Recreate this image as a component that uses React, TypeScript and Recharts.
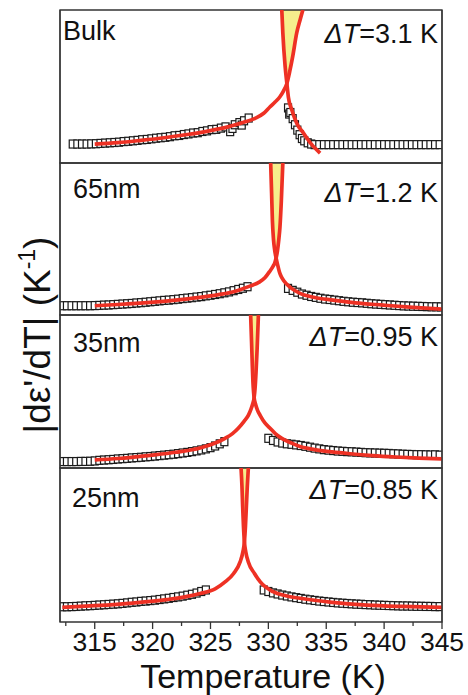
import React from "react";
import { Area, ComposedChart, Line, ReferenceArea, ReferenceLine, Scatter, XAxis, YAxis } from "recharts";

type Pair = [number, number];

// temperature axis
const tempDomain: [number, number] = [312, 345];
const tempTicks = [312.5, 315, 317.5, 320, 322.5, 325, 327.5, 330, 332.5, 335, 337.5, 340, 342.5, 345];

const panelNames = ["Bulk", "65nm", "35nm", "25nm"];
const deltaT = ["3.1", "1.2", "0.95", "0.85"];

// ---- Bulk ----
const bulkDataLow: Pair[] = [
  [313.1, 12.4], [313.5, 12.4], [313.9, 12.4], [314.3, 12.4], [314.7, 12.5], [315.1, 12.6],
  [315.5, 12.8], [315.9, 13.0], [316.3, 13.2], [316.7, 13.4], [317.1, 13.6], [317.5, 14.0],
  [317.9, 14.2], [318.3, 14.5], [318.7, 14.8], [319.1, 15.2], [319.5, 15.4], [319.9, 15.8],
  [320.3, 16.2], [320.7, 16.5], [321.1, 16.8], [321.5, 17.2], [321.9, 17.8], [322.3, 18.0],
  [322.7, 18.6], [323.1, 19.0], [323.5, 19.6], [323.9, 19.8], [324.3, 20.6], [324.7, 21.0],
  [325.1, 21.8], [325.5, 22.0], [325.9, 22.8], [326.3, 23.6], [326.7, 20.5], [326.9, 22.6],
  [327.1, 25.0], [327.5, 26.4], [327.7, 24.8], [327.9, 27.6], [328.3, 29.4],
];
const bulkDataHigh: Pair[] = [
  [331.7, 36], [331.8, 32], [331.9, 33], [332.1, 29], [332.3, 25], [332.5, 21.5], [332.7, 18.5],
  [332.9, 16], [333.1, 14.5], [333.4, 13.2], [333.7, 12.4], [334.0, 12.0], [334.4, 12.0],
  [334.8, 12.0], [335.2, 12.0], [335.6, 12.0], [336.0, 12.0], [336.4, 12.0], [336.8, 12.0],
  [337.2, 12.0], [337.6, 12.0], [338.0, 12.0], [338.4, 12.0], [338.8, 12.0], [339.2, 12.0],
  [339.6, 12.0], [340.0, 12.0], [340.4, 12.0], [340.8, 12.0], [341.2, 12.0], [341.6, 12.0],
  [342.0, 12.0], [342.4, 12.0], [342.8, 12.0], [343.2, 12.0], [343.6, 12.0], [344.0, 12.0],
  [344.4, 12.0], [344.8, 12.0],
];
const bulkFitLow: Pair[] = [
  [315.0, 12.4], [317, 13.3], [319, 14.8], [321, 16.5], [323, 18.6], [325, 21.2], [326.5, 23.6],
  [327.8, 26.5], [328.85, 29.2], [329.6, 32.5], [330.15, 36.8], [330.6, 40], [331.0, 43.3],
  [331.3, 47], [331.6, 52], [331.85, 60], [332.1, 69.5], [332.45, 85], [332.74, 93.5],
  [332.98, 100],
];
const bulkFitHigh: Pair[] = [
  [331.16, 100], [331.25, 85], [331.45, 63], [331.6, 52], [331.73, 43],
  [332.03, 34.6], [332.45, 26], [333.03, 19.6], [333.7, 12.5], [334.47, 6.5],
];
const bulkBand: Pair[] = [
  [331.16, 100], [331.25, 85], [331.45, 63], [331.6, 52], [331.85, 60], [332.1, 69.5],
  [332.45, 85], [332.74, 93.5], [332.98, 100],
];

// ---- 65nm ----
const nm65DataLow: Pair[] = [
  [312.2, 6.1], [312.6, 6.1], [313.0, 6.1], [313.4, 6.1], [313.8, 6.1], [314.2, 6.1], [314.6, 6.1],
  [315.0, 6.2], [315.4, 6.3], [315.8, 6.5], [316.2, 6.6], [316.6, 6.8], [317.0, 7.0], [317.4, 7.2],
  [317.8, 7.4], [318.2, 7.6], [318.6, 7.9], [319.0, 8.1], [319.4, 8.4], [319.8, 8.7], [320.2, 9.0],
  [320.6, 9.3], [321.0, 9.6], [321.4, 9.8], [321.8, 10.1], [322.2, 10.4], [322.6, 10.8],
  [323.0, 11.1], [323.4, 11.4], [323.8, 11.8], [324.2, 12.1], [324.6, 12.6], [325.0, 13.0],
  [325.4, 13.5], [325.8, 14.0], [326.2, 14.6], [326.6, 15.2], [327.0, 16.0], [327.4, 16.8],
  [327.8, 17.6], [328.2, 18.6],
];
const nm65DataHigh: Pair[] = [
  [331.7, 17.5], [332.1, 16.2], [332.5, 15.0], [332.9, 13.8], [333.3, 13.0], [333.7, 12.2],
  [334.1, 11.6], [334.5, 11.0], [334.9, 10.5], [335.3, 10.2], [335.7, 9.8], [336.1, 9.4],
  [336.5, 9.0], [336.9, 8.7], [337.3, 8.4], [337.7, 8.2], [338.1, 8.0], [338.5, 7.7], [338.9, 7.4],
  [339.3, 7.2], [339.7, 7.0], [340.1, 6.8], [340.5, 6.6], [340.9, 6.4], [341.3, 6.2], [341.7, 6.0],
  [342.1, 5.9], [342.5, 5.8], [342.9, 5.7], [343.3, 5.6], [343.7, 5.5], [344.1, 5.4], [344.5, 5.4],
  [344.9, 5.3],
];
const nm65FitLow: Pair[] = [
  [315, 6.1], [317, 6.9], [319.8, 8.3], [322, 9.8], [324.1, 11.6], [325.7, 13.4], [327, 15.3],
  [328.4, 19], [329.2, 21.6], [329.7, 24.5], [330.1, 28.5], [330.4, 32], [330.55, 34.2],
  [330.67, 37.5], [330.78, 42], [330.9, 49.5], [331.0, 57.7], [331.12, 75], [331.25, 100],
];
const nm65FitHigh: Pair[] = [
  [330.2, 100], [330.28, 80], [330.35, 62], [330.44, 50], [330.55, 42.5],
  [330.67, 37.5], [330.8, 33], [330.95, 28.5], [331.1, 25.5], [331.3, 22.9], [331.6, 20.2],
  [332, 17.5], [332.74, 14.2], [334, 11.5], [335.6, 9.8], [337.5, 8], [339.9, 6.5], [342.5, 5],
  [345, 3.9],
];
const nm65Band: Pair[] = [
  [330.2, 100], [330.28, 80], [330.35, 62], [330.44, 50], [330.55, 42.5], [330.67, 37.5],
  [330.78, 42], [330.9, 49.5], [331.0, 57.7], [331.12, 75], [331.25, 100],
];

// ---- 35nm ----
const nm35DataLow: Pair[] = [
  [312.2, 4.2], [312.6, 4.2], [313.0, 4.2], [313.4, 4.2], [313.8, 4.3], [314.2, 4.3], [314.6, 4.4],
  [315.0, 4.6], [315.4, 5.0], [315.8, 5.2], [316.2, 5.4], [316.6, 5.6], [317.0, 5.9], [317.4, 6.1],
  [317.8, 6.3], [318.2, 6.6], [318.6, 6.8], [319.0, 7.0], [319.4, 7.3], [319.8, 7.5], [320.2, 7.8],
  [320.6, 8.1], [321.0, 8.4], [321.4, 8.7], [321.8, 9.0], [322.2, 9.4], [322.6, 9.8], [323.0, 10.2],
  [323.4, 10.7], [323.8, 11.2], [324.2, 11.8], [324.6, 12.5], [325.0, 13.3], [325.4, 14.4],
  [325.8, 15.8], [326.2, 17.2],
];
const nm35DataHigh: Pair[] = [
  [330.0, 19.4], [330.4, 18.0], [330.8, 17.0], [331.2, 16.3], [331.6, 15.8], [332.0, 15.5],
  [332.4, 15.1], [332.8, 14.7], [333.2, 14.2], [333.6, 13.6], [334.0, 13.0], [334.4, 12.5],
  [334.8, 12.0], [335.2, 11.7], [335.6, 11.4], [336.0, 11.1], [336.4, 10.9], [336.8, 10.7],
  [337.2, 10.6], [337.6, 10.4], [338.0, 10.2], [338.4, 10.0], [338.8, 9.9], [339.2, 9.8],
  [339.6, 9.7], [340.0, 9.6], [340.4, 9.5], [340.8, 9.3], [341.2, 9.2], [341.6, 9.0], [342.0, 8.9],
  [342.4, 8.8], [342.8, 8.7], [343.2, 8.7], [343.6, 8.6], [344.0, 8.5], [344.4, 8.6], [344.8, 8.4],
];
const nm35FitLow: Pair[] = [
  [315, 5.3], [317, 6.2], [319.8, 8.3], [322, 10.3], [324.1, 13.1], [325.3, 16], [326.26, 19.4],
  [326.9, 22.5], [327.4, 26], [327.9, 30.5], [328.28, 34.6], [328.5, 38.5], [328.65, 42],
  [328.77, 46], [328.85, 52], [328.93, 62], [329.03, 78], [329.14, 100],
];
const nm35FitHigh: Pair[] = [
  [328.47, 100], [328.55, 82], [328.61, 68], [328.67, 56], [328.72, 50],
  [328.77, 46], [328.9, 41.5], [329.05, 38], [329.3, 34.3], [329.7, 29.5], [330.15, 26],
  [330.6, 22.5], [331.16, 19.4], [332, 16.3], [332.74, 14], [334, 12], [335.5, 10.5],
  [337.06, 9.3], [339, 8.1], [341, 7.2], [343, 6.5], [345, 5.9],
];
const nm35Band: Pair[] = [
  [328.47, 100], [328.55, 82], [328.61, 68], [328.67, 56], [328.72, 50], [328.77, 46],
  [328.85, 52], [328.93, 62], [329.03, 78], [329.14, 100],
];

// ---- 25nm ----
const nm25DataLow: Pair[] = [
  [312.2, 9.9], [312.6, 9.9], [313.0, 10.0], [313.4, 10.1], [313.8, 10.3], [314.2, 10.5],
  [314.6, 10.6], [315.0, 10.8], [315.4, 11.0], [315.8, 11.2], [316.2, 11.4], [316.6, 11.6],
  [317.0, 11.8], [317.4, 12.1], [317.8, 12.4], [318.2, 12.8], [318.6, 13.0], [319.0, 13.4],
  [319.4, 13.6], [319.8, 13.9], [320.2, 14.2], [320.6, 14.6], [321.0, 15.0], [321.4, 15.4],
  [321.8, 15.9], [322.2, 16.3], [322.6, 16.8], [323.0, 17.4], [323.4, 18.0], [323.8, 18.8],
  [324.2, 19.8], [324.6, 20.8],
];
const nm25DataHigh: Pair[] = [
  [329.6, 20.8], [330.0, 19.8], [330.4, 18.9], [330.8, 18.2], [331.2, 17.5], [331.6, 16.9],
  [332.0, 16.3], [332.4, 15.8], [332.8, 15.3], [333.2, 14.8], [333.6, 14.4], [334.0, 14.0],
  [334.4, 13.6], [334.8, 13.3], [335.2, 13.0], [335.6, 12.7], [336.0, 12.4], [336.4, 12.2],
  [336.8, 12.0], [337.2, 11.8], [337.6, 11.6], [338.0, 11.5], [338.4, 11.3], [338.8, 11.2],
  [339.2, 11.0], [339.6, 10.9], [340.0, 10.8], [340.4, 10.7], [340.8, 10.6], [341.2, 10.5],
  [341.6, 10.4], [342.0, 10.4], [342.4, 10.3], [342.8, 10.2], [343.2, 10.2], [343.6, 10.1],
  [344.0, 10.1], [344.4, 10.0], [344.8, 10.0],
];
const nm25FitLow: Pair[] = [
  [312.2, 9.5], [315, 10.6], [318.3, 12.3], [321.2, 14.5], [323, 16.6], [324.1, 18.5],
  [325.4, 21.5], [326.26, 26], [327.0, 31.5], [327.56, 39], [327.8, 45.5], [327.93, 52],
  [328.02, 62], [328.1, 75], [328.18, 88], [328.27, 100],
];
const nm25FitHigh: Pair[] = [
  [327.64, 100], [327.72, 88], [327.78, 75], [327.85, 62], [327.93, 52],
  [328.05, 45.5], [328.27, 39], [328.8, 31.5], [329.3, 26], [330.4, 19.7], [331.5, 17],
  [332.74, 15.4], [335.5, 12.8], [338.5, 11], [341.5, 10.1], [345, 9.5],
];
const nm25Band: Pair[] = [
  [327.64, 100], [327.72, 88], [327.78, 75], [327.85, 62], [327.93, 52], [328.02, 62],
  [328.1, 75], [328.18, 88], [328.27, 100],
];

const RED = "#ee3124";
const YELLOW = "#f6ee8c";
const FRAME = "#333";
const FONT = "'Liberation Sans', Arial, sans-serif";
const TICK_SIZE = 7;
const TICK_MARGIN = 3;

const pts = (p: Pair[]) => p.map(([t, v]) => ({ t, v }));
const bandPts = (p: Pair[]) => p.map(([t, v]) => ({ t, band: [v, 100] }));

const Square = (props: any) => {
  const { cx, cy } = props;
  if (cx == null || cy == null) return null;
  return <rect x={cx - 3.5} y={cy - 4} width={7} height={8} fill="#fff" stroke="#1a1a1a" strokeWidth={1.2} />;
};

// major ticks every 5 K with labels, minor ticks in between
const TempTick = (props: any) => {
  const { x, y, payload } = props;
  const value = Number(payload.value);
  const major = Math.abs(value - Math.round(value / 5) * 5) < 0.01;
  const axisY = y - TICK_SIZE - TICK_MARGIN;
  return (
    <g>
      <line x1={x} x2={x} y1={axisY} y2={axisY + (major ? TICK_SIZE : 4)} stroke={FRAME} strokeWidth={1.3} />
      {major && (
        <text x={x} y={y} dy="0.71em" textAnchor="middle" fontSize={26.5} fill="#111" fontFamily={FONT}>
          {value}
        </text>
      )}
    </g>
  );
};

type PanelProps = {
  top: number;
  plotH: number;
  data: Pair[];
  fitLow: Pair[];
  fitHigh: Pair[];
  band: Pair[];
  bottom?: boolean;
};

function Panel({ top, plotH, data, fitLow, fitHigh, band, bottom }: PanelProps) {
  const axisH = bottom ? 695 - top - plotH : 2;
  const h = 2 + plotH + axisH;
  const box: React.CSSProperties = { position: "absolute", left: 0, top: top - 2, width: 468, height: h };
  return (
    <>
      {/* measured points */}
      <div style={box}>
        <ComposedChart width={468} height={h} margin={{ top: 2, right: 26, bottom: axisH, left: 60 }}>
          <XAxis hide dataKey="t" type="number" domain={tempDomain} allowDataOverflow />
          <YAxis hide dataKey="v" type="number" domain={[0, 100]} allowDataOverflow />
          <Scatter data={pts(data)} shape={Square} isAnimationActive={false} />
        </ComposedChart>
      </div>
      {/* fits, frame and axis */}
      <div style={box}>
        <ComposedChart width={468} height={h} margin={{ top: 2, right: 26, bottom: bottom ? 0 : axisH, left: 60 }}>
          <XAxis
            dataKey="t"
            type="number"
            domain={tempDomain}
            allowDataOverflow
            hide={!bottom}
            ticks={tempTicks}
            interval={0}
            height={axisH}
            tick={<TempTick />}
            tickLine={false}
            tickSize={TICK_SIZE}
            tickMargin={TICK_MARGIN}
            axisLine={false}
          />
          <YAxis hide dataKey="v" type="number" domain={[0, 100]} allowDataOverflow />
          <Area data={bandPts(band)} dataKey="band" type="monotone" fill={YELLOW} fillOpacity={1} stroke="none" isAnimationActive={false} />
          <Line data={pts(fitLow)} dataKey="v" type="monotone" stroke={RED} strokeWidth={3.7} dot={false} isAnimationActive={false} />
          <Line data={pts(fitHigh)} dataKey="v" type="monotone" stroke={RED} strokeWidth={3.7} dot={false} isAnimationActive={false} />
          <ReferenceArea x1={312} x2={345} y1={0} y2={100} fill="none" stroke={FRAME} strokeWidth={1.3} ifOverflow="visible" />
          <ReferenceLine x={345} stroke={FRAME} strokeWidth={1.3} ifOverflow="visible" />
          <ReferenceLine x={312} stroke={FRAME} strokeWidth={1.3} ifOverflow="visible" />
        </ComposedChart>
      </div>
    </>
  );
}

const nameSpots = [
  { x: 63, y: 40 },
  { x: 73, y: 198 },
  { x: 73, y: 352 },
  { x: 72, y: 507 },
];
const deltaSpots = [43, 202, 346, 499];

export default function App() {
  return (
    <div style={{ position: "absolute", left: 0, top: 0, width: 468, height: 695, background: "#fff", fontFamily: FONT }}>
      <Panel top={10} plotH={153} data={[...bulkDataLow, ...bulkDataHigh]} fitLow={bulkFitLow} fitHigh={bulkFitHigh} band={bulkBand} />
      <Panel top={163} plotH={152} data={[...nm65DataLow, ...nm65DataHigh]} fitLow={nm65FitLow} fitHigh={nm65FitHigh} band={nm65Band} />
      <Panel top={315} plotH={153} data={[...nm35DataLow, ...nm35DataHigh]} fitLow={nm35FitLow} fitHigh={nm35FitHigh} band={nm35Band} />
      <Panel top={468} plotH={154} data={[...nm25DataLow, ...nm25DataHigh]} fitLow={nm25FitLow} fitHigh={nm25FitHigh} band={nm25Band} bottom />
      <svg width={468} height={695} style={{ position: "absolute", left: 0, top: 0, pointerEvents: "none" }}>
        <g fontFamily={FONT} fill="#111">
          {panelNames.map((n, i) => (
            <text key={n} x={nameSpots[i].x} y={nameSpots[i].y} fontSize={27}>
              {n}
            </text>
          ))}
          {deltaT.map((d, i) => (
            <text key={d} x={438} y={deltaSpots[i]} fontSize={27} textAnchor="end">
              <tspan fontStyle="italic">ΔT</tspan>={d} K
            </text>
          ))}
          <text x={263} y={687.5} fontSize={34} textAnchor="middle">
            Temperature (K)
          </text>
          <text transform="translate(50,335) rotate(-90)" fontSize={37} textAnchor="middle">
            |dε'/dT| (K
            <tspan dy={-15} fontSize={23}>
              -1
            </tspan>
            <tspan dy={15}>)</tspan>
          </text>
        </g>
      </svg>
    </div>
  );
}
